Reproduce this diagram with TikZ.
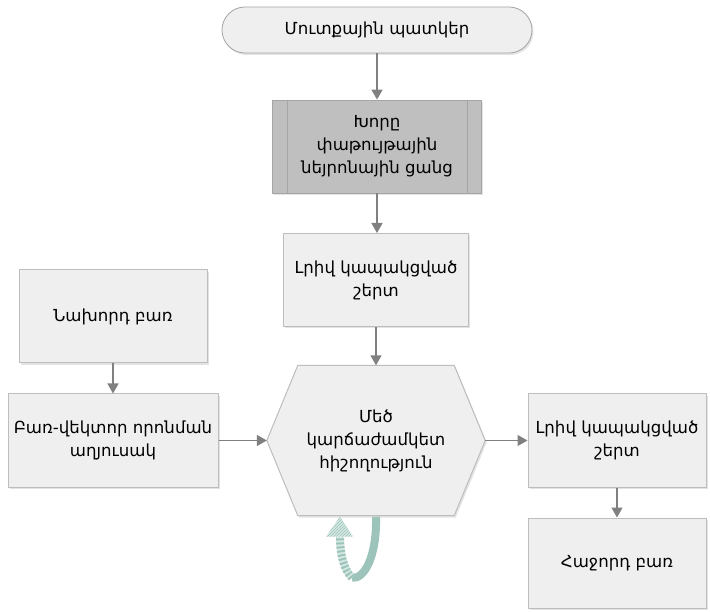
\documentclass[tikz,border=0pt]{standalone}
\usepackage{fontspec}
\setmainfont{DejaVu Sans}
\usetikzlibrary{arrows.meta,shadows,patterns,calc}
\definecolor{boxfill}{HTML}{EFEFEF}
\definecolor{boxline}{HTML}{BDBDBD}
\definecolor{darkfill}{HTML}{BFBFBF}
\definecolor{darkline}{HTML}{A5A5A5}
\definecolor{arrowc}{HTML}{808080}
\definecolor{teal1}{HTML}{9CC4BA}
\definecolor{teal2}{HTML}{D6E8E3}
\begin{document}
\begin{tikzpicture}[x=1pt,y=-1pt,
  txt/.style={font=\fontsize{16.6}{23}\selectfont, align=center, text=black},
  shad/.style={drop shadow={opacity=0.22, shadow xshift=1.5pt, shadow yshift=-2pt}},
  box/.style={txt, shad, draw=boxline, fill=boxfill, line width=1pt, inner sep=0pt},
  conn/.style={draw=arrowc, line width=1.5pt, -{Triangle[width=11pt,length=10pt]}}
]
\useasboundingbox (0,0) rectangle (710,612);

% top terminal
\node[txt, shad, draw=darkline, fill=boxfill, line width=0.8pt, rounded corners=23pt,
      minimum width=310pt, minimum height=46pt] (start) at (377,30) {Մուտքային պատկեր};

% predefined process (grey)
\node[txt, shad, draw=darkline, fill=darkfill, line width=0.8pt,
      minimum width=209pt, minimum height=93pt] (cnn) at (377,146.5) {Խորը\\փաթույթային\\նեյրոնային ցանց};
\draw[darkline, line width=0.8pt] ($(cnn.north west)+(15,0)$) -- ($(cnn.south west)+(15,0)$);
\draw[darkline, line width=0.8pt] ($(cnn.north east)+(-15,0)$) -- ($(cnn.south east)+(-15,0)$);

% fully connected (top)
\node[box, minimum width=185pt, minimum height=93pt] (fc1) at (376,280) {Լրիվ կապակցված\\շերտ};

% previous word
\node[box, minimum width=188pt, minimum height=93pt] (prev) at (113,316.5) {Նախորդ բառ};

% word vector lookup
\node[box, minimum width=210pt, minimum height=93pt] (wv) at (113,440.5) {Բառ-վեկտոր որոնման\\աղյուսակ};

% hexagon (LSTM)
\path node[minimum width=218pt, minimum height=150pt, inner sep=0pt] (hex) at (376,440.5) {};
\draw[shad, draw=boxline, fill=boxfill, line width=1pt]
  (hex.west) -- ($(hex.north west)+(31,0)$) -- ($(hex.north east)+(-31,0)$) -- (hex.east)
  -- ($(hex.south east)+(-31,0)$) -- ($(hex.south west)+(31,0)$) -- cycle;
\node[txt] (hexlabel) at (hex.center) {Մեծ\\կարճաժամկետ\\հիշողություն};

% fully connected (right)
\node[box, minimum width=178pt, minimum height=93pt] (fc2) at (617,440.5) {Լրիվ կապակցված\\շերտ};

% next word
\node[box, minimum width=178pt, minimum height=90pt] (next) at (617,563) {Հաջորդ բառ};

% connectors
\draw[conn] (start.south) -- (start.south |- cnn.north);
\draw[conn] (cnn.south) -- (cnn.south |- fc1.north);
\draw[conn] (fc1.south) -- (hex.north);
\draw[conn] (prev.south) -- (wv.north);
\draw[conn] (wv.east) -- (hex.west);
\draw[conn] (hex.east) -- (fc2.west);
\draw[conn] (fc2.south) -- (next.north);

% self loop (curved ribbon arrow)
\coordinate (loopstart) at ($(hex.south)+(0,1)$);
\coordinate (loopbottom) at ($(hex.south)+(-24,62)$);
\coordinate (loophead) at ($(hex.south)+(-36,21)$);
\draw[teal1, line width=8pt] (loopstart) .. controls ($(loopstart)+(1,40)$) and ($(loopbottom)+(12,2)$) .. (loopbottom);
\draw[teal2, line width=8pt] (loopbottom) .. controls ($(loopbottom)+(-8,-8)$) and ($(loophead)+(0,18)$) .. (loophead);
\draw[teal1, line width=8pt, dash pattern=on 2pt off 2pt] (loopbottom) .. controls ($(loopbottom)+(-8,-8)$) and ($(loophead)+(0,18)$) .. (loophead);
\fill[teal2] ($(loophead)+(-14,0)$) -- ($(loophead)+(13,0)$) -- ($(hex.south)+(-36,1)$) -- cycle;
\fill[pattern=north east lines, pattern color=teal1] ($(loophead)+(-14,0)$) -- ($(loophead)+(13,0)$) -- ($(hex.south)+(-36,1)$) -- cycle;
\end{tikzpicture}
\end{document}
